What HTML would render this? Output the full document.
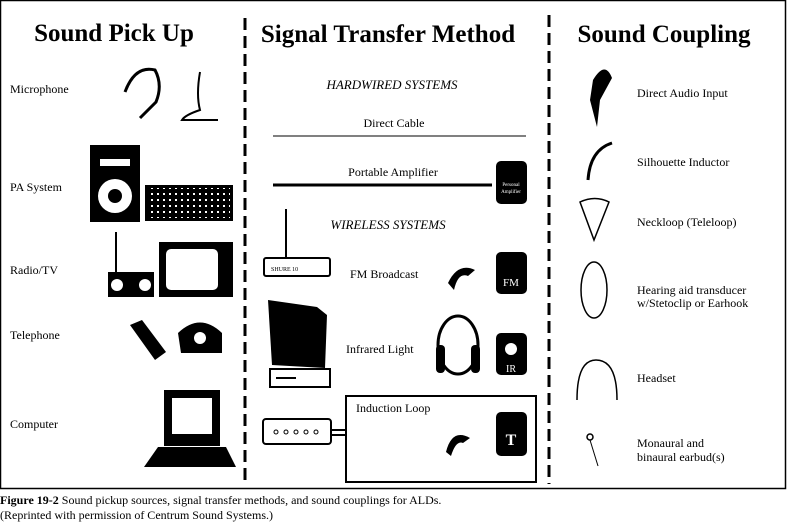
<!DOCTYPE html>
<html><head><style>
html,body{margin:0;padding:0;background:#fff;}
svg{display:block}
text{font-family:"Liberation Serif",serif;fill:#000}
</style></head><body>
<svg width="787" height="525" viewBox="0 0 787 525" xmlns="http://www.w3.org/2000/svg">
<defs>
<pattern id="dots" width="6" height="6" patternUnits="userSpaceOnUse"><rect x="1" y="1" width="2" height="2" fill="#fff"/></pattern>
</defs>
<rect x="0.5" y="0.5" width="785" height="488" fill="#fff" stroke="#000" stroke-width="1.5"/>
<line x1="245" y1="18" x2="245" y2="484" stroke="#000" stroke-width="3" stroke-dasharray="12,6"/>
<line x1="549" y1="15" x2="549" y2="484" stroke="#000" stroke-width="3" stroke-dasharray="12,6"/>
<text x="114" y="41" font-size="25" font-weight="bold" text-anchor="middle">Sound Pick Up</text>
<text x="388" y="42" font-size="25" font-weight="bold" text-anchor="middle">Signal Transfer Method</text>
<text x="664" y="42" font-size="25" font-weight="bold" text-anchor="middle">Sound Coupling</text>
<g font-size="12">
<text x="10" y="93">Microphone</text>
<text x="10" y="191">PA System</text>
<text x="10" y="274">Radio/TV</text>
<text x="10" y="339">Telephone</text>
<text x="10" y="428">Computer</text>
<text x="637" y="97">Direct Audio Input</text>
<text x="637" y="166">Silhouette Inductor</text>
<text x="637" y="226">Neckloop (Teleloop)</text>
<text x="637" y="294">Hearing aid transducer</text>
<text x="637" y="307">w/Stetoclip or Earhook</text>
<text x="637" y="382">Headset</text>
<text x="637" y="447">Monaural and</text>
<text x="637" y="461">binaural earbud(s)</text>
<text x="394" y="127" text-anchor="middle">Direct Cable</text>
<text x="393" y="176" text-anchor="middle">Portable Amplifier</text>
<text x="350" y="278">FM Broadcast</text>
<text x="346" y="353">Infrared Light</text>
<text x="356" y="412">Induction Loop</text>
</g>
<text x="392" y="89" font-size="13" font-style="italic" text-anchor="middle">HARDWIRED SYSTEMS</text>
<text x="388" y="229" font-size="13" font-style="italic" text-anchor="middle">WIRELESS SYSTEMS</text>
<line x1="273" y1="136" x2="526" y2="136" stroke="#000" stroke-width="1"/>
<line x1="273" y1="185" x2="492" y2="185" stroke="#000" stroke-width="3"/>
<rect x="496" y="161" width="31" height="43" rx="5" fill="#000"/>
<text x="511" y="186" font-size="5" style="fill:#fff" text-anchor="middle">Personal</text>
<text x="511" y="193" font-size="5" style="fill:#fff" text-anchor="middle">Amplifier</text>
<rect x="496" y="252" width="31" height="42" rx="5" fill="#000"/>
<text x="511" y="286" font-size="11" style="fill:#fff" text-anchor="middle" font-family="Liberation Sans">FM</text>
<rect x="496" y="333" width="31" height="42" rx="5" fill="#000"/>
<circle cx="511" cy="349" r="6" fill="#fff"/>
<text x="511" y="372" font-size="10" style="fill:#fff" text-anchor="middle" font-family="Liberation Sans">IR</text>
<rect x="496" y="412" width="31" height="44" rx="5" fill="#000"/>
<text x="511" y="445" font-size="16" font-weight="bold" style="fill:#fff" text-anchor="middle" font-family="Liberation Sans">T</text>
<rect x="346" y="396" width="190" height="86" fill="none" stroke="#000" stroke-width="2"/>
<line x1="331" y1="430" x2="346" y2="430" stroke="#000" stroke-width="2"/>
<line x1="331" y1="435" x2="346" y2="435" stroke="#000" stroke-width="2"/>
<rect x="263" y="419" width="68" height="25" rx="3" fill="#fff" stroke="#000" stroke-width="2"/>
<g fill="none" stroke="#000"><circle cx="276" cy="432" r="2"/><circle cx="286" cy="432" r="2"/><circle cx="296" cy="432" r="2"/><circle cx="306" cy="432" r="2"/><circle cx="316" cy="432" r="2"/></g>
<line x1="286" y1="209" x2="286" y2="258" stroke="#000" stroke-width="2"/>
<rect x="264" y="258" width="66" height="18" rx="2" fill="#fff" stroke="#000" stroke-width="2"/>
<text x="271" y="271" font-size="6">SHURE 10</text>
<path d="M268 300 L317 307 L327 315 L325 368 L272 365 Z" fill="#000"/>
<rect x="270" y="369" width="60" height="18" fill="#fff" stroke="#000" stroke-width="2"/>
<line x1="276" y1="378" x2="296" y2="378" stroke="#000" stroke-width="2"/>
<path d="M448 283 Q458 262 475 270 L468 276 Q458 272 454 290 Z" fill="#000"/>
<path d="M446 452 Q452 428 470 438 L463 443 Q456 440 451 456 Z" fill="#000"/>
<ellipse cx="458" cy="345" rx="20" ry="29" fill="none" stroke="#000" stroke-width="3"/>
<rect x="436" y="345" width="9" height="28" rx="4" fill="#000"/>
<rect x="471" y="345" width="9" height="28" rx="4" fill="#000"/>
<path d="M125 92 Q135 65 155 70 Q163 85 156 102 L140 118" fill="none" stroke="#000" stroke-width="3"/>
<path d="M200 72 Q196 95 200 110 Q185 115 182 120 L218 120" fill="none" stroke="#000" stroke-width="2"/>
<rect x="90" y="145" width="50" height="77" fill="#000"/>
<rect x="100" y="159" width="30" height="7" fill="#fff"/>
<circle cx="115" cy="196" r="17" fill="#fff"/><circle cx="115" cy="196" r="7" fill="#000"/>
<rect x="145" y="185" width="88" height="36" fill="#000"/>
<rect x="148" y="188" width="82" height="30" fill="url(#dots)"/>
<line x1="116" y1="232" x2="116" y2="272" stroke="#000" stroke-width="2"/>
<rect x="108" y="272" width="46" height="25" fill="#000"/>
<circle cx="117" cy="285" r="6" fill="#fff"/><circle cx="145" cy="285" r="6" fill="#fff"/>
<rect x="159" y="242" width="74" height="55" fill="#000"/>
<rect x="166" y="249" width="52" height="41" rx="5" fill="#fff"/>
<path d="M130 325 L142 320 L166 352 L155 360 Z" fill="#000"/>
<path d="M178 333 Q200 312 222 333 L222 353 L181 353 Z" fill="#000"/>
<circle cx="200" cy="338" r="6" fill="#fff"/>
<rect x="164" y="390" width="56" height="56" fill="#000"/>
<rect x="172" y="398" width="40" height="36" fill="#fff"/>
<path d="M158 447 L226 447 L236 467 L144 467 Z" fill="#000"/>
<path d="M593 80 Q605 60 612 78 L600 100 L597 127 L590 100 Z" fill="#000"/>
<path d="M588 180 Q590 150 612 143" fill="none" stroke="#000" stroke-width="3"/>
<path d="M580 202 Q595 195 609 202 L594 240 Z" fill="none" stroke="#000" stroke-width="1.5"/>
<ellipse cx="594" cy="290" rx="13" ry="28" fill="none" stroke="#000" stroke-width="1.5"/>
<path d="M577 400 Q577 360 596 360 Q617 360 617 400" fill="none" stroke="#000" stroke-width="1.5"/>
<circle cx="590" cy="437" r="3" fill="none" stroke="#000" stroke-width="1.5"/>
<line x1="590" y1="440" x2="598" y2="466" stroke="#000" stroke-width="1"/>
<text x="0" y="504" font-size="12"><tspan font-weight="bold">Figure 19-2</tspan> Sound pickup sources, signal transfer methods, and sound couplings for ALDs.</text>
<text x="0" y="519" font-size="12">(Reprinted with permission of Centrum Sound Systems.)</text>
</svg>
</body></html>
